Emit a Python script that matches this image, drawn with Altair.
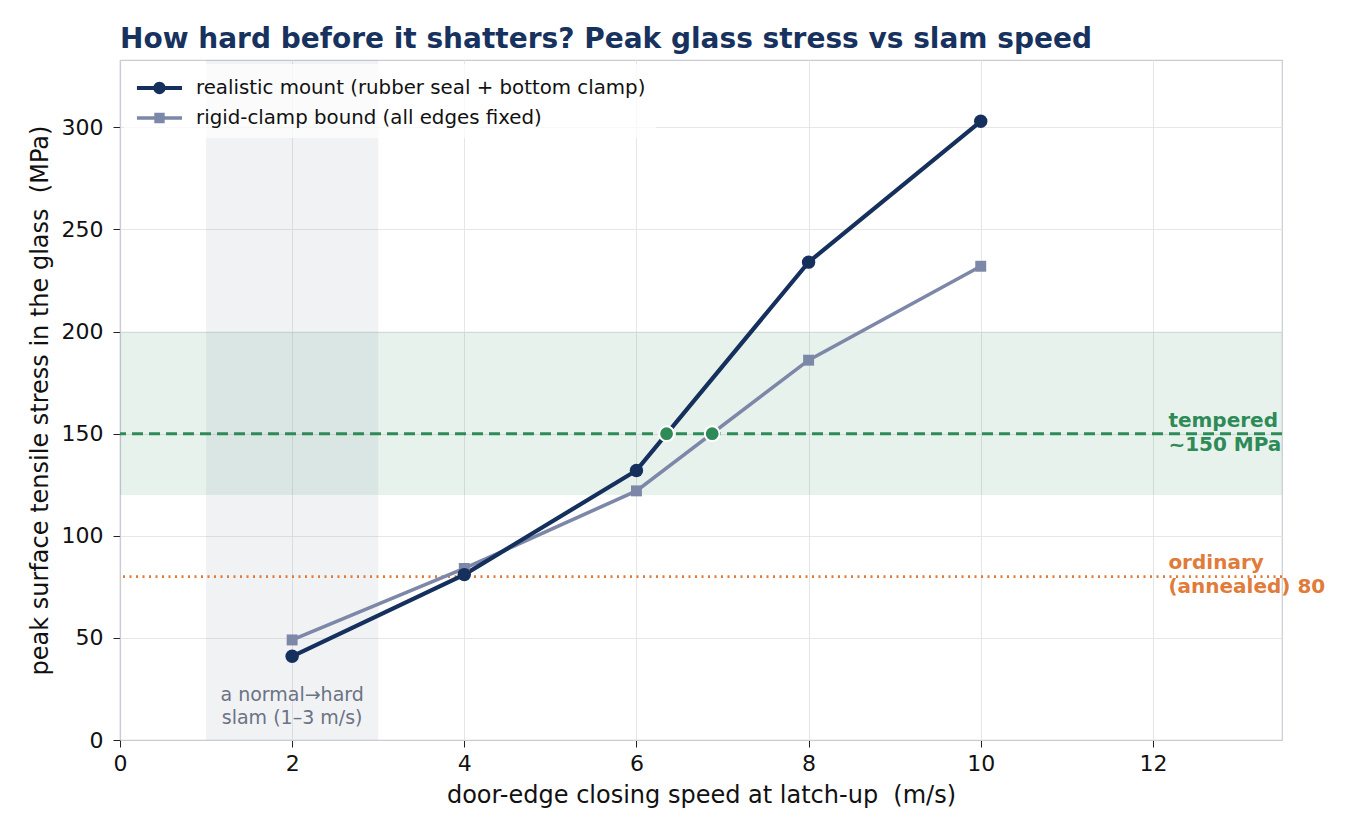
import pandas as pd
import altair as alt

# Data
SPEED = [2, 4, 6, 8, 10]
REALISTIC = [41, 81, 132, 234, 303]
RIGID = [49, 84, 122, 186, 232]
SERIES = ['realistic mount (rubber seal + bottom clamp)', 'rigid-clamp bound (all edges fixed)']

CROSS_X = [6.35, 6.88]
CROSS_Y = [150, 150]

TEMPERED = 150
ANNEALED = 80
TEMPERED_BAND = [120, 200]
SLAM_BAND = [1, 3]

NAVY = '#15305c'
SLATE = '#7d88a8'
GREEN = '#2e8b57'
ORANGE = '#e07b3a'
FONT = 'DejaVu Sans'

X_DOMAIN = [0, 13.5]
Y_DOMAIN = [0, 333]

df = pd.DataFrame({
    'speed': SPEED * 2,
    'stress': REALISTIC + RIGID,
    'series': [SERIES[0]] * len(SPEED) + [SERIES[1]] * len(SPEED),
})
real_df = df[df['series'] == SERIES[0]]
rigid_df = df[df['series'] == SERIES[1]]
cross_df = pd.DataFrame({'speed': CROSS_X, 'stress': CROSS_Y})

x = alt.X('speed:Q', title='door-edge closing speed at latch-up \u00a0(m/s)',
          scale=alt.Scale(domain=X_DOMAIN, nice=False),
          axis=alt.Axis(values=[0, 2, 4, 6, 8, 10, 12], format='d', labelPadding=6, titlePadding=9))
y = alt.Y('stress:Q', title='peak surface tensile stress in the glass \u00a0(MPa)',
          scale=alt.Scale(domain=Y_DOMAIN, nice=False),
          axis=alt.Axis(values=[0, 50, 100, 150, 200, 250, 300], format='d', labelPadding=10, titlePadding=9))

# shaded regions
slam_band = alt.Chart(pd.DataFrame({'x1': [SLAM_BAND[0]], 'x2': [SLAM_BAND[1]]})).mark_rect(
    color='#8d9bab', opacity=0.13
).encode(x='x1:Q', x2='x2:Q')

temp_band = alt.Chart(pd.DataFrame({'y1': [TEMPERED_BAND[0]], 'y2': [TEMPERED_BAND[1]]})).mark_rect(
    color=GREEN, opacity=0.11
).encode(y='y1:Q', y2='y2:Q')

temp_rule = alt.Chart(pd.DataFrame({'y': [TEMPERED]})).mark_rule(
    color=GREEN, strokeWidth=3, strokeDash=[11, 6]
).encode(y='y:Q')

ann_rule = alt.Chart(pd.DataFrame({'y': [ANNEALED]})).mark_rule(
    color=ORANGE, strokeWidth=2.6, strokeDash=[2, 4.5]
).encode(y='y:Q')

# data lines
real_line = alt.Chart(real_df).mark_line(color=NAVY, strokeWidth=4.2).encode(x=x, y=y)
rigid_line = alt.Chart(rigid_df).mark_line(color=SLATE, strokeWidth=3.6).encode(x=x, y=y)
real_pts = alt.Chart(real_df).mark_circle(color=NAVY, size=180, opacity=1).encode(x=x, y=y)
rigid_pts = alt.Chart(rigid_df).mark_square(color=SLATE, size=120, opacity=1).encode(x=x, y=y)

cross_pts = alt.Chart(cross_df).mark_circle(
    color=GREEN, size=220, opacity=1, stroke='white', strokeWidth=2
).encode(x=x, y=y)

# legend symbols: a line segment with the marker on top (1 unit = 14 px)
LINE_CIRCLE = ('M-0.79,-0.15L2.43,-0.15L2.43,0.15L-0.79,0.15Z '
               'M1.26,0A0.44,0.44,0,1,1,0.38,0A0.44,0.44,0,1,1,1.26,0Z')
LINE_SQUARE = ('M-0.79,-0.12L2.43,-0.12L2.43,0.12L-0.79,0.12Z '
               'M0.45,-0.37L1.19,-0.37L1.19,0.37L0.45,0.37Z')

legend_props = dict(
    title=None, orient='top-left', offset=4,
    symbolSize=784, symbolOpacity=1, symbolStrokeWidth=0,
    labelFontSize=19.8, labelFont=FONT, labelColor='#111111', labelLimit=0,
    labelOffset=34, rowPadding=6, padding=10,
    fillColor='rgba(255,255,255,0.7)',
)

legend_layer = alt.Chart(df).mark_point(filled=True, size=0).encode(
    x=x, y=y,
    color=alt.Color('series:N', scale=alt.Scale(domain=SERIES, range=[NAVY, SLATE]),
                    legend=alt.Legend(**legend_props)),
    shape=alt.Shape('series:N', scale=alt.Scale(domain=SERIES, range=[LINE_CIRCLE, LINE_SQUARE]),
                    legend=alt.Legend(**legend_props)),
)

# text annotations
slam_text = alt.Chart(pd.DataFrame({'x': [2], 'y': [17], 't': ['a normal\u2192hard\nslam (1\u20133 m/s)']})).mark_text(
    color='#6b7385', fontSize=19, font=FONT, align='center', baseline='middle',
    lineHeight=23, lineBreak='\n', dy=-10
).encode(x='x:Q', y='y:Q', text='t:N')

temp_text = alt.Chart(pd.DataFrame({'x': [12.18], 'y': [TEMPERED], 't': ['tempered\n~150 MPa']})).mark_text(
    color=GREEN, fontSize=20, fontWeight='bold', font=FONT, align='left', baseline='middle',
    lineHeight=24, lineBreak='\n', dy=-13
).encode(x='x:Q', y='y:Q', text='t:N')

ann_text = alt.Chart(pd.DataFrame({'x': [12.18], 'y': [ANNEALED], 't': ['ordinary\n(annealed) 80']})).mark_text(
    color=ORANGE, fontSize=20, fontWeight='bold', font=FONT, align='left', baseline='middle',
    lineHeight=24, lineBreak='\n', dy=-14
).encode(x='x:Q', y='y:Q', text='t:N')

chart = alt.layer(
    slam_band, temp_band, temp_rule, ann_rule,
    rigid_line, real_line, rigid_pts, real_pts, cross_pts,
    legend_layer, slam_text, temp_text, ann_text,
).properties(
    width=1162,
    height=680,
    autosize=alt.AutoSizeParams(type='none'),
    padding={'left': 112, 'top': 52, 'right': 74, 'bottom': 89},
    title=alt.Title(
        'How hard before it shatters? Peak glass stress vs slam speed',
        anchor='start', frame='group', fontSize=28, fontWeight='bold', color='#17325e',
        font=FONT, offset=6,
    ),
).configure_view(
    stroke='#c9ccd3', strokeWidth=1.2
).configure_axis(
    labelFont=FONT, titleFont=FONT, labelFontSize=22, titleFontSize=24,
    labelColor='#111111', titleColor='#111111', titleFontWeight='normal',
    gridColor='#e6e6e6', gridWidth=1, domainColor='#c9ccd3', domainWidth=1.2,
    tickColor='#222222', tickSize=7, labelFlush=False,
)

chart.save('out.html', embed_options={'renderer': 'svg', 'actions': False})
